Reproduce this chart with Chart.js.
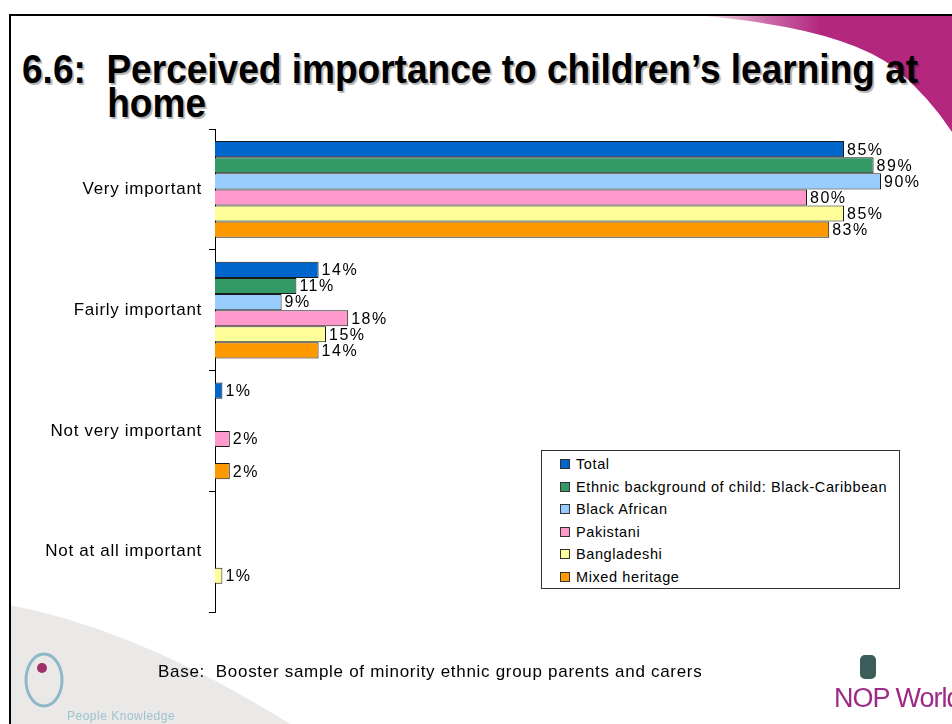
<!DOCTYPE html>
<html>
<head>
<meta charset="utf-8">
<script src="https://cdn.jsdelivr.net/npm/chart.js@4"></script>
<style>
 body{margin:0;width:952px;height:724px;overflow:hidden;background:#fff;position:relative;font-family:"Liberation Sans",Arial,sans-serif}
 #deco{position:absolute;left:0;top:0}
 #frame{position:absolute;left:9px;top:14px;width:960px;height:730px;border-left:2px solid #000;border-top:2px solid #000}
 #title{position:absolute;left:22px;top:52px;font-weight:bold;font-size:40px;line-height:34px;color:#000;text-shadow:2px 2px 1px rgba(0,0,0,.3);white-space:nowrap;transform:scaleX(.926);transform-origin:0 0}
 #title span{padding-left:92px}
 #chart{position:absolute;left:0;top:0}
 #legend{position:absolute;left:541px;top:450px;width:357px;height:137px;border:1px solid #333;background:#fff;font-size:14.5px;letter-spacing:.6px;color:#000}
 #legend div{position:absolute;left:18px;height:16px;line-height:16px;white-space:nowrap}
 #legend i{display:inline-block;width:8px;height:8px;border:1px solid #333;margin-right:6px;vertical-align:0}
 #base{position:absolute;left:158px;top:662px;font-size:17px;letter-spacing:.7px;color:#000;white-space:nowrap}
 #pk{position:absolute;left:67px;top:709px;font-size:12px;color:#9cc4cc;letter-spacing:.5px}
 #nop{position:absolute;left:834px;top:683px;font-size:27px;color:#9c2a86;white-space:nowrap;letter-spacing:-1px}
</style>
</head>
<body>
<svg id="deco" width="952" height="724">
 <defs>
  <linearGradient id="swoosh" x1="0" y1="0" x2="1" y2="0">
   <stop offset="0" stop-color="#b3277f" stop-opacity="0"/>
   <stop offset="0.3" stop-color="#b3277f" stop-opacity="0.7"/>
   <stop offset="0.5" stop-color="#b3277f"/>
  </linearGradient>
 </defs>
 <path d="M690 15 Q840 26 895 68 Q930 98 952 132 L952 15 Z" fill="url(#swoosh)"/>
 <path d="M10 605 Q140 630 290 724 L10 724 Z" fill="#ebe8e8"/>
 <ellipse cx="44" cy="680" rx="18" ry="26" fill="none" stroke="#8fb8c8" stroke-width="3"/>
 <circle cx="42" cy="668" r="5" fill="#a0306a"/>
 <rect x="860" y="655" width="16" height="24" rx="5" fill="#3c5d5a"/>
</svg>
<div id="frame"></div>
<div id="title">6.6:&nbsp; Perceived importance to children’s learning at<br><span>home</span></div>
<canvas id="chart" width="960" height="724"></canvas>
<div id="legend"></div>
<div id="base">Base:&nbsp; Booster sample of minority ethnic group parents and carers</div>
<div id="pk">People Knowledge</div>
<div id="nop">NOP World</div>
<script>
const categories=["Very important","Fairly important","Not very important","Not at all important"];
const seriesNames=["Total","Ethnic background of child: Black-Caribbean","Black African","Pakistani","Bangladeshi","Mixed heritage"];
const total=[85,14,1,null];
const blackCaribbean=[89,11,null,null];
const blackAfrican=[90,9,null,null];
const pakistani=[80,18,2,null];
const bangladeshi=[85,15,null,1];
const mixedHeritage=[83,14,2,null];
const seriesColors=["#0066cc","#339966","#99ccff","#ff99cc","#ffff99","#ff9900"];

const series=[total,blackCaribbean,blackAfrican,pakistani,bangladeshi,mixedHeritage];

// percentage text at the end of each bar
const valueLabels={
 id:"valueLabels",
 afterDatasetsDraw(c){
  const ctx=c.ctx;
  ctx.save();
  ctx.font="16px 'Liberation Sans', Arial, sans-serif";
  ctx.letterSpacing="1.5px";
  ctx.fillStyle="#000";
  ctx.textBaseline="middle";
  c.data.datasets.forEach((ds,i)=>{
   c.getDatasetMeta(i).data.forEach((bar,j)=>{
    const v=ds.data[j];
    if(v==null) return;
    ctx.fillText(v+"%",bar.x+3,bar.y+1);
   });
  });
  ctx.restore();
 }
};

// category names a little spaced out, as in the slide
const spacedTicks={
 id:"spacedTicks",
 beforeDraw(c){c.ctx.letterSpacing="0.7px";},
 afterDraw(c){c.ctx.letterSpacing="0px";}
};

const chart=new Chart(document.getElementById("chart"),{
 type:"bar",
 data:{
  labels:categories,
  datasets:series.map((d,i)=>({
   label:seriesNames[i],
   data:d,
   backgroundColor:seriesColors[i],
   borderColor:"#1a1a1a",
   borderWidth:1,
   categoryPercentage:0.8,
   barPercentage:1
  }))
 },
 options:{
  indexAxis:"y",
  responsive:false,
  animation:false,
  layout:{padding:{top:129,bottom:112,right:5,left:0}},
  plugins:{legend:{display:false},tooltip:{enabled:false}},
  scales:{
   x:{display:false,min:0,max:100},
   y:{
    afterFit(s){s.width=215;},
    border:{color:"#000",width:1},
    grid:{drawOnChartArea:false,color:"#000",tickLength:6,offset:true},
    ticks:{color:"#000",padding:7,font:{family:"'Liberation Sans', Arial, sans-serif",size:17}}
   }
  }
 },
 plugins:[spacedTicks,valueLabels]
});

// legend box built from the same series
const legend=document.getElementById("legend");
seriesNames.forEach((name,i)=>{
 const row=document.createElement("div");
 row.style.top=(5+i*22.6)+"px";
 row.innerHTML='<i style="background:'+seriesColors[i]+'"></i>'+name;
 legend.appendChild(row);
});
</script>
</body>
</html>
